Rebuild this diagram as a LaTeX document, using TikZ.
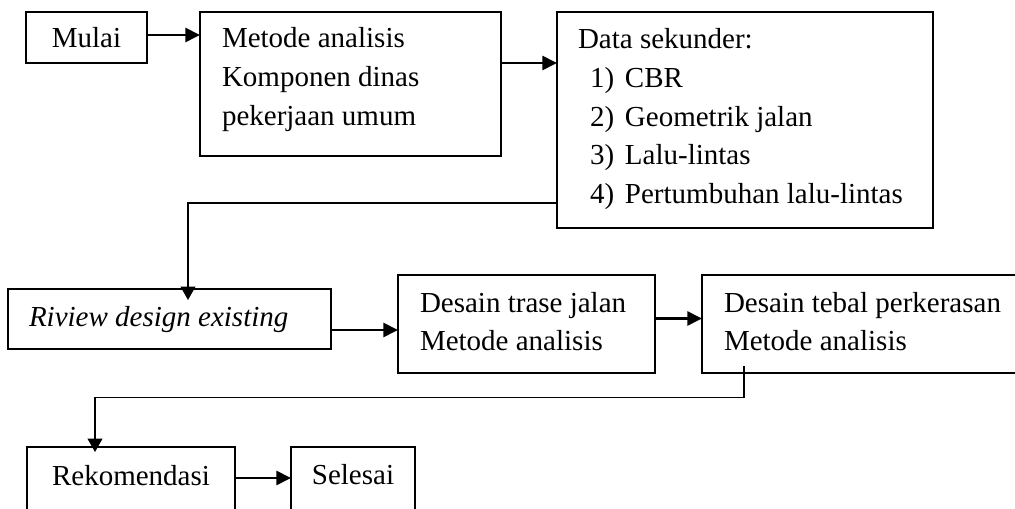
\documentclass[tikz,border=0pt]{standalone}
\usepackage{fontspec}
\setmainfont{Liberation Serif}
\usetikzlibrary{arrows.meta}
\begin{document}
\begin{tikzpicture}[x=0.75pt,y=-0.75pt,
  box/.style={draw, line width=1.3pt, inner sep=0pt, outer sep=0pt, anchor=north west},
  txt/.style={inner sep=0pt, outer sep=0pt, font=\fontsize{21.75pt}{29pt}\selectfont},
  arr/.style={line width=2pt, -{Triangle[length=11pt,width=10.5pt]}},
  conn/.style={line width=1.3pt, -{Triangle[length=10pt,width=11pt]}}]
\useasboundingbox (0,0) rectangle (1015,509);
\clip (0,0) rectangle (1015,509);
% boxes
\node[box, minimum width=90.75pt, minimum height=38.25pt] (mulai) at (26,12) {};
\node[box, minimum width=225.75pt, minimum height=108pt] (metode) at (200,12) {};
\node[box, minimum width=282pt, minimum height=162pt] (data) at (557,12) {};
\node[box, minimum width=242.25pt, minimum height=45pt] (riview) at (8,289) {};
\node[box, minimum width=192.75pt, minimum height=73.5pt] (trase) at (398,275) {};
\node[box, minimum width=238.5pt, minimum height=73.5pt] (tebal) at (702,275) {};
\node[box, minimum width=156pt, minimum height=54.75pt] (rekom) at (27,447) {};
\node[box, minimum width=93pt, minimum height=54.75pt] (selesai) at (291,447) {};
% texts
\node[txt, anchor=base] (t-mulai) at (86.5,48) {Mulai};
\node[txt, anchor=base west] (t-met1) at (222,48) {Metode analisis};
\node[txt, anchor=base west] (t-met2) at (222,87) {Komponen dinas};
\node[txt, anchor=base west] (t-met3) at (222,126) {pekerjaan umum};
\node[txt, anchor=base west] (t-dat0) at (578,49) {Data sekunder:};
\node[txt, anchor=base west] (t-dat1) at (590,88) {\makebox[26.25pt][l]{1)}CBR};
\node[txt, anchor=base west] (t-dat2) at (590,126.5) {\makebox[26.25pt][l]{2)}Geometrik jalan};
\node[txt, anchor=base west] (t-dat3) at (590,165) {\makebox[26.25pt][l]{3)}Lalu-lintas};
\node[txt, anchor=base west] (t-dat4) at (590,204) {\makebox[26.25pt][l]{4)}Pertumbuhan lalu-lintas};
\node[txt, anchor=base west] (t-riv) at (29,327) {\itshape Riview design existing};
\node[txt, anchor=base west] (t-tra1) at (420,313) {Desain trase jalan};
\node[txt, anchor=base west] (t-tra2) at (420,351) {Metode analisis};
\node[txt, anchor=base west] (t-teb1) at (724,313) {Desain tebal perkerasan};
\node[txt, anchor=base west] (t-teb2) at (724,351) {Metode analisis};
\node[txt, anchor=base] (t-rek) at (131,486) {Rekomendasi};
\node[txt, anchor=base] (t-sel) at (353,485) {Selesai};
% connectors
\draw[arr] ([yshift=1.875pt]mulai.east) -- ([yshift=1.875pt]mulai.east -| metode.west);
\draw[arr] (metode.east |- 0,63) -- (data.west |- 0,63);
\draw[conn] (data.west |- 0,203) -| ([yshift=-8.25pt]riview.north -| 188,0);
\draw[arr] (riview.east |- 0,330) -- (trase.west |- 0,330);
\draw[arr] (trase.east |- 0,318.5) -- (tebal.west |- 0,318.5);
\draw[conn] ([yshift=5.25pt]tebal.south -| 744,0) -- ++(0,31.5) -| ([yshift=-3.75pt]rekom.north -| 95,0);
\draw[arr] (rekom.east |- 0,478) -- (selesai.west |- 0,478);
\end{tikzpicture}
\end{document}
